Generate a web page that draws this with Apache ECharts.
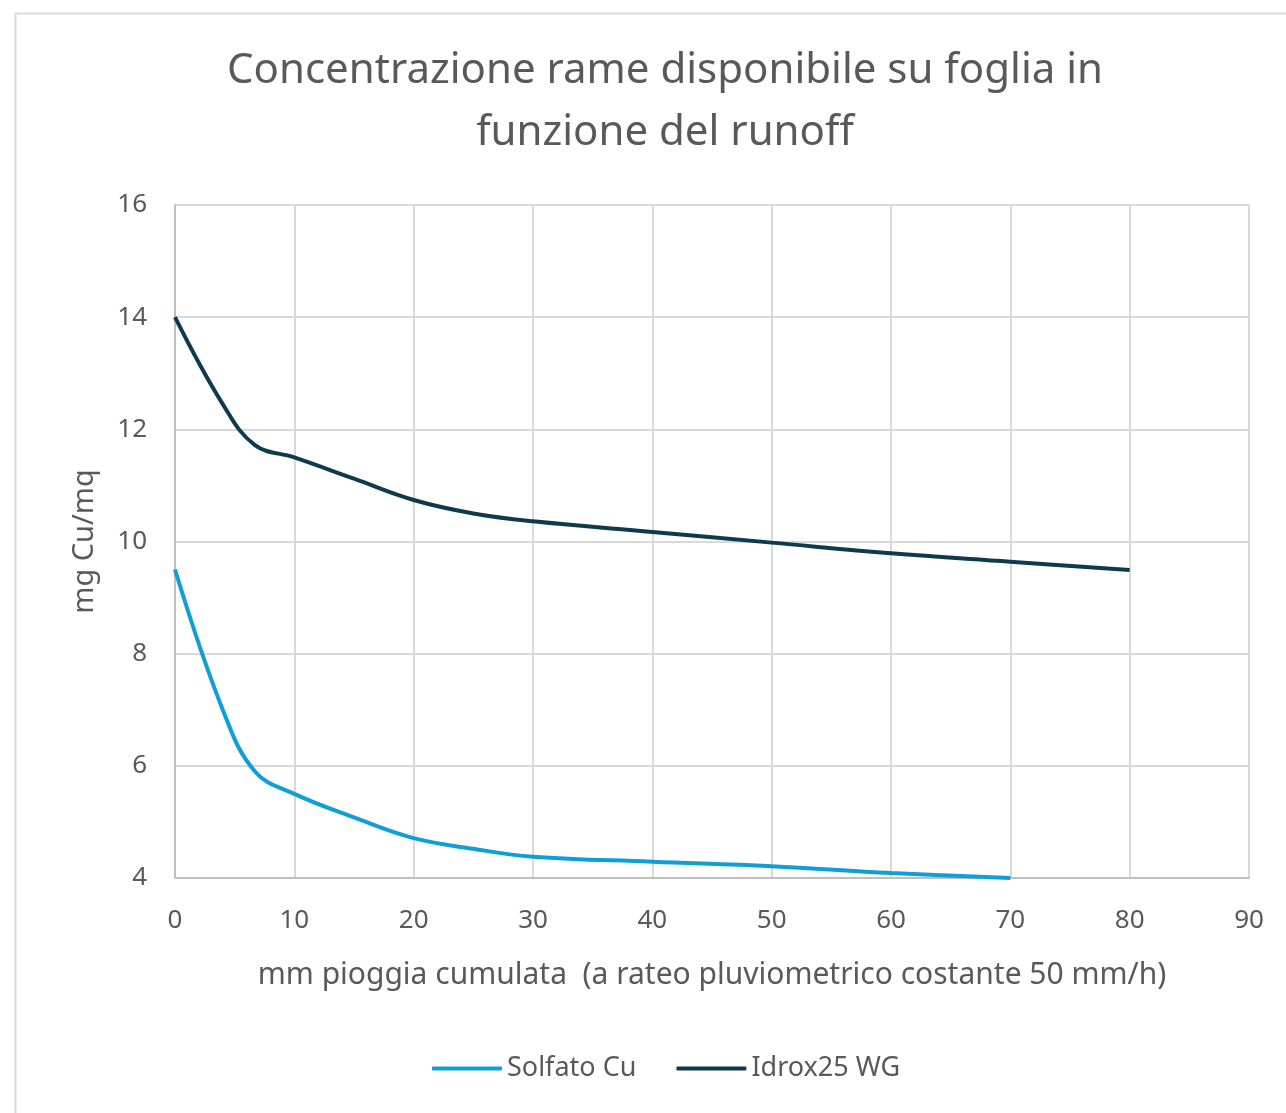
<!DOCTYPE html>
<html>
<head>
<meta charset="utf-8">
<script src="https://cdn.jsdelivr.net/npm/echarts@6/dist/echarts.min.js"></script>
<style>
html,body{margin:0;padding:0;background:#fff;}
#c{width:1286px;height:1113px;}
</style>
</head>
<body>
<div id="c"></div>
<script>
const titleText = 'Concentrazione rame disponibile su foglia in\nfunzione del runoff';
const xAxisTitle = 'mm pioggia cumulata  (a rateo pluviometrico costante 50 mm/h)';
const yAxisTitle = 'mg Cu/mq';
const seriesNames = ['Solfato Cu', 'Idrox25 WG'];

const solfatoX = [0, 4, 6.7, 10, 15, 20, 25, 30, 40, 50, 60, 70];
const solfatoY = [9.5, 7.0, 5.9, 5.5, 5.08, 4.71, 4.52, 4.38, 4.29, 4.21, 4.09, 4.0];

const idroxX = [0, 4, 6.7, 10, 15, 20, 25, 30, 40, 50, 60, 70, 80];
const idroxY = [14.0, 12.45, 11.72, 11.5, 11.12, 10.74, 10.5, 10.36, 10.17, 9.98, 9.79, 9.64, 9.49];

const colors = ['#0F9ED5', '#0E3A50'];
const fontFamily = '"Noto Sans", "Open Sans", sans-serif';
const textColor = '#595959';

function pairs(xs, ys) { return xs.map((x, i) => [x, ys[i]]); }

const chart = echarts.init(document.getElementById('c'), null, {renderer: 'canvas'});
chart.setOption({
  animation: false,
  backgroundColor: '#fff',
  graphic: [{
    type: 'rect', left: 13, top: 11, silent: true,
    shape: {x: 0, y: 0, width: 1300, height: 1200},
    style: {fill: 'none', stroke: '#d9d9d9', lineWidth: 2}
  }],
  title: {
    text: titleText,
    left: 660, top: 35, textAlign: 'center',
    textStyle: {fontFamily: fontFamily, fontSize: 42, fontWeight: 'normal', color: textColor, lineHeight: 62}
  },
  legend: {
    bottom: 26, left: 427,
    itemWidth: 70, itemHeight: 4, itemGap: 40,
    icon: 'roundRect',
    textStyle: {fontFamily: fontFamily, fontSize: 27, color: textColor},
    data: seriesNames
  },
  grid: {left: 175, top: 205, right: 37, bottom: 235},
  xAxis: {
    type: 'value', min: 0, max: 90, interval: 10,
    name: xAxisTitle, nameLocation: 'middle', nameGap: 82,
    nameTextStyle: {fontFamily: fontFamily, fontSize: 30, color: textColor},
    axisLine: {show: true, lineStyle: {color: '#bfbfbf', width: 2}},
    axisTick: {show: false},
    axisLabel: {fontFamily: fontFamily, fontSize: 26, color: textColor, margin: 30},
    splitLine: {show: true, lineStyle: {color: '#d9d9d9', width: 2}}
  },
  yAxis: {
    type: 'value', min: 4, max: 16, interval: 2,
    name: yAxisTitle, nameLocation: 'middle', nameGap: 76, nameRotate: 90,
    nameTextStyle: {fontFamily: fontFamily, fontSize: 29, color: textColor},
    axisLine: {show: true, lineStyle: {color: '#bfbfbf', width: 2}},
    axisTick: {show: false},
    axisLabel: {fontFamily: fontFamily, fontSize: 26, color: textColor, margin: 28},
    splitLine: {show: true, lineStyle: {color: '#d9d9d9', width: 2}}
  },
  series: [
    {
      name: seriesNames[0], type: 'line', data: pairs(solfatoX, solfatoY),
      smooth: 0.4, showSymbol: false, symbol: 'none',
      lineStyle: {color: colors[0], width: 4}, itemStyle: {color: colors[0]}
    },
    {
      name: seriesNames[1], type: 'line', data: pairs(idroxX, idroxY),
      smooth: 0.4, showSymbol: false, symbol: 'none',
      lineStyle: {color: colors[1], width: 4}, itemStyle: {color: colors[1]}
    }
  ]
});
</script>
</body>
</html>
